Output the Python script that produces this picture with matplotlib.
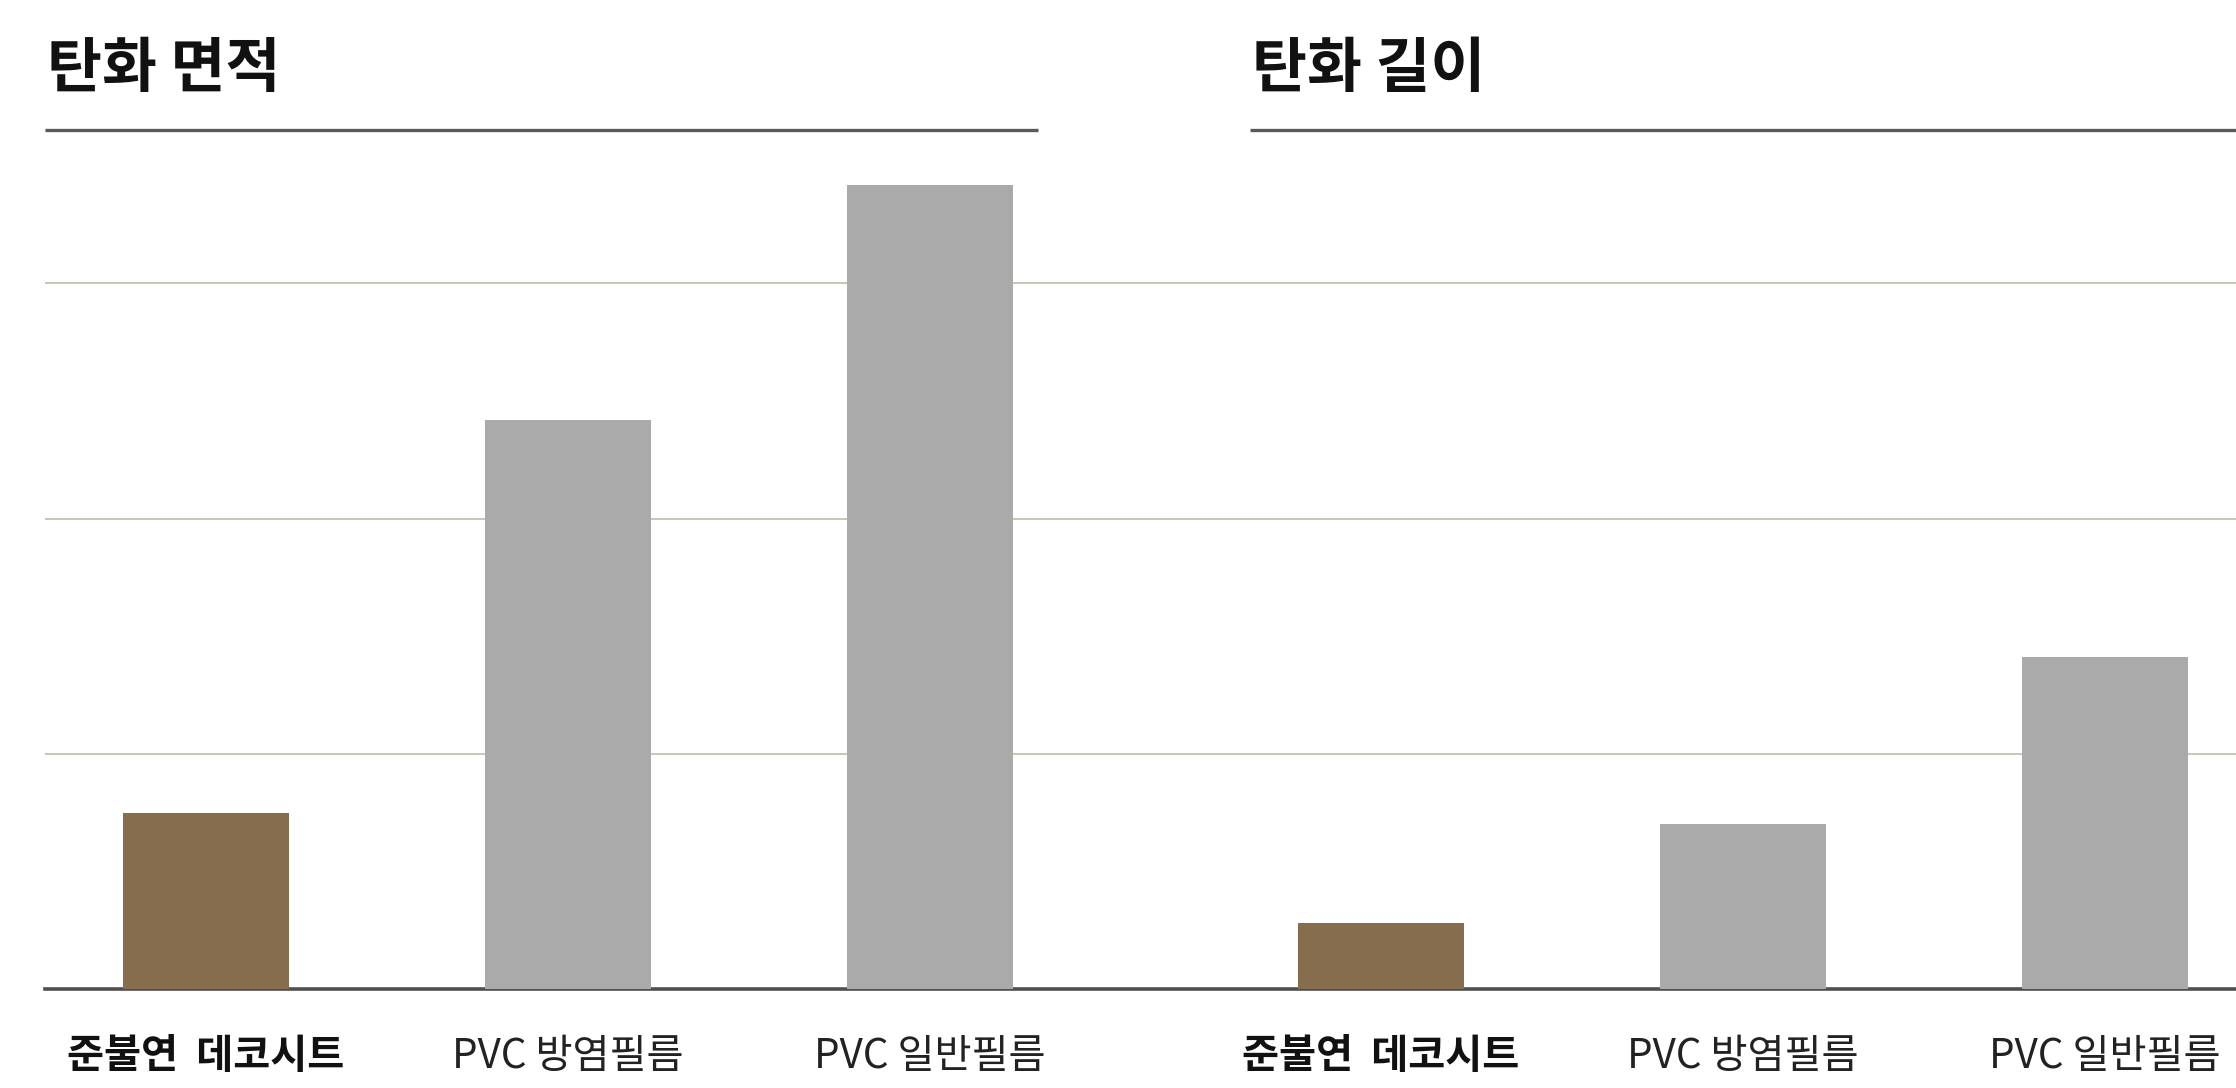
import numpy as np
import matplotlib.pyplot as plt

plt.rcParams['font.family'] = ['Noto Sans CJK KR', 'DejaVu Sans']

# data
categories = ['준불연  데코시트', 'PVC 방염필름', 'PVC 일반필름']
panel_titles = ['탄화 면적', '탄화 길이']
area_values = [0.75, 2.42, 3.42]     # 탄화 면적
length_values = [0.28, 0.70, 1.41]   # 탄화 길이
bar_colors = ['#856d4d', '#aaaaaa', '#aaaaaa']

fig = plt.figure(figsize=(22.36, 10.88), dpi=100)
ax = fig.add_axes([45 / 2236, 1 - 989 / 1088, 1 - 45 / 2236, (989 - 130) / 1088])

# bar positions: two groups of three, wider gap between panels
step = 362.0
left_x = np.arange(3)
right_x = left_x + 2 + 451 / step
width = 166 / step

ax.bar(left_x, area_values, width=width, color=bar_colors, zorder=3)
ax.bar(right_x, length_values, width=width, color=bar_colors, zorder=3)

ax.set_xlim(-(205.5 - 45) / step, right_x[-1] + (2236 - 2105) / step)
ax.set_ylim(0, (989 - 130) / 235.2)

ax.set_yticks([1, 2, 3])
ax.yaxis.grid(True, color='#c6c2ae', linewidth=1.3)
ax.set_axisbelow(True)
ax.tick_params(axis='y', left=False, labelleft=False)

ax.set_xticks(np.concatenate([left_x, right_x]))
ax.set_xticklabels(categories * 2, fontsize=29, color='#222222')
ax.tick_params(axis='x', length=0, pad=34)
for i, lbl in enumerate(ax.get_xticklabels()):
    if i % 3 == 0:
        lbl.set_fontweight('bold')
        lbl.set_color('#111111')

for s in ['top', 'left', 'right']:
    ax.spines[s].set_visible(False)
ax.spines['bottom'].set_color('#4f4f4f')
ax.spines['bottom'].set_linewidth(2.6)

# panel titles with underline
trans = ax.get_xaxis_transform()
x0 = ax.get_xlim()[0]
x1 = ax.get_xlim()[1]
line_spans = [(x0, (1038 - 205.5) / step), ((1250 - 205.5) / step, x1)]
for title, (a, b) in zip(panel_titles, line_spans):
    ax.plot([a, b], [1, 1], transform=trans, color='#5a5a5a', linewidth=2.4,
            clip_on=False, solid_capstyle='butt')
    ax.text(a + 2 / step, 1.070, title, transform=trans, fontsize=43,
            fontweight='bold', va='center', ha='left', color='#111111')

fig.savefig('out.png', dpi=100, facecolor='white')
